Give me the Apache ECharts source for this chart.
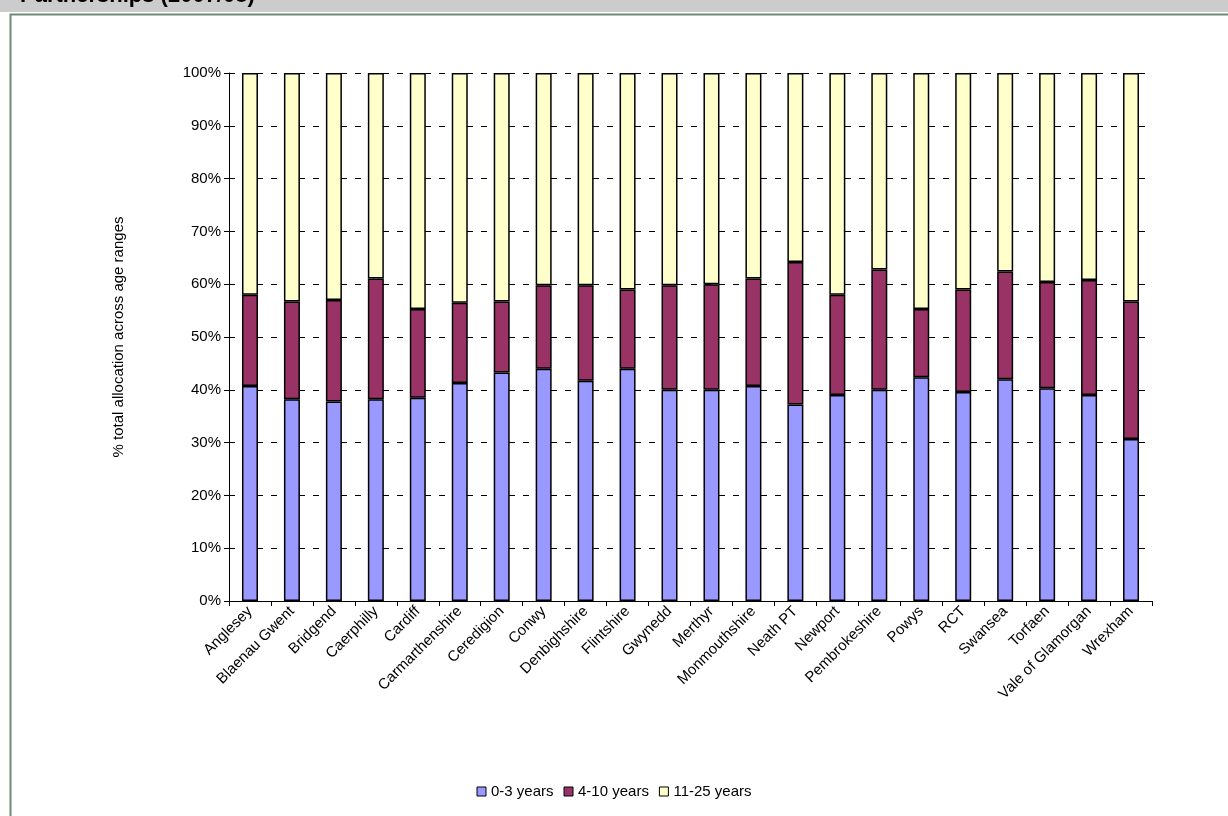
<!DOCTYPE html>
<html>
<head>
<meta charset="UTF-8">
<script src="https://cdn.jsdelivr.net/npm/echarts@6/dist/echarts.min.js"></script>
<style>html,body{margin:0;padding:0;background:#fff}#c{width:1228px;height:816px}</style>
</head>
<body>
<div id="c"></div>
<script>
var categories = ['Anglesey','Blaenau Gwent','Bridgend','Caerphilly','Cardiff','Carmarthenshire','Ceredigion','Conwy','Denbighshire','Flintshire','Gwynedd','Merthyr','Monmouthshire','Neath PT','Newport','Pembrokeshire','Powys','RCT','Swansea','Torfaen','Vale of Glamorgan','Wrexham'];
var age0to3 = [40.7,38.2,37.8,38.2,38.5,41.3,43.3,44.0,41.7,44.0,40.0,40.0,40.7,37.2,39.0,40.0,42.4,39.6,42.0,40.3,39.0,30.7];
var upTo10 = [58.0,56.7,57.0,61.1,55.3,56.5,56.7,59.8,59.8,59.0,59.8,60.0,61.1,64.2,58.0,62.8,55.3,59.0,62.4,60.4,60.8,56.7];
var age4to10 = upTo10.map(function(v, i) { return +(v - age0to3[i]).toFixed(1); });
var age11to25 = upTo10.map(function(v) { return +(100 - v).toFixed(1); });

var chart = echarts.init(document.getElementById('c'));
var font = 'Liberation Sans, Arial, sans-serif';
function bar(name, data, color) {
    return {
        name: name, type: 'bar', stack: 'a', data: data, barWidth: 16,
        itemStyle: { color: color, borderColor: '#000', borderWidth: 1.5 }
    };
}
chart.setOption({
    animation: false,
    graphic: [
        { type: 'rect', left: 0, top: 0, shape: { width: 1228, height: 12 }, style: { fill: '#cccccc' } },
        { type: 'text', left: 20, top: -15, style: { text: 'Partnerships (2007/08)', font: 'bold 22px ' + font, fill: '#000' } },
        { type: 'rect', left: 8, top: 12, shape: { width: 1228, height: 820 }, style: { fill: 'none', stroke: '#6f8a76', lineWidth: 2 } }
    ],
    legend: {
        bottom: 12, left: 'center', itemWidth: 9, itemHeight: 9, itemGap: 10,
        icon: 'rect',
        itemStyle: { borderWidth: 1 },
        textStyle: { fontFamily: font, fontSize: 15, color: '#000' }
    },
    grid: { left: 229, right: 76, top: 73, bottom: 215 },
    xAxis: {
        type: 'category', data: categories,
        axisLine: { lineStyle: { color: '#000' } },
        axisTick: { show: true, lineStyle: { color: '#000' } },
        axisLabel: { interval: 0, rotate: 45, fontFamily: font, fontSize: 15, color: '#000', margin: 8 }
    },
    yAxis: {
        type: 'value', min: 0, max: 100, interval: 10,
        name: '% total allocation across age ranges', nameLocation: 'middle', nameGap: 103,
        nameTextStyle: { fontFamily: font, fontSize: 15, color: '#000' },
        axisLine: { show: true, lineStyle: { color: '#000' } },
        axisTick: { show: true, lineStyle: { color: '#000' } },
        axisLabel: { formatter: '{value}%', fontFamily: font, fontSize: 15, color: '#000' },
        splitLine: { lineStyle: { color: '#000', type: [6, 8] } }
    },
    series: [
        bar('0-3 years', age0to3, '#9999ff'),
        bar('4-10 years', age4to10, '#993366'),
        bar('11-25 years', age11to25, '#ffffcc')
    ]
});
</script>
</body>
</html>
